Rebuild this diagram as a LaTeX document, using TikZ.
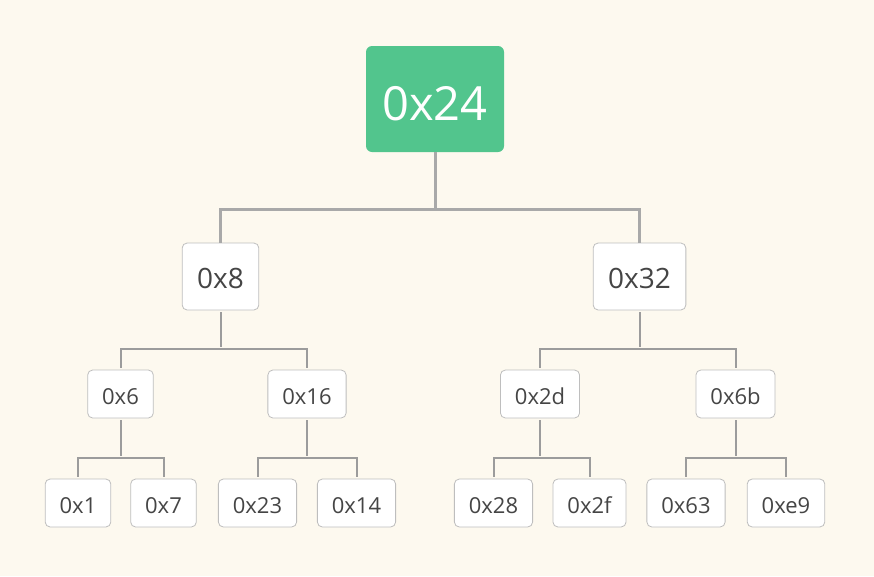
\documentclass[tikz,border=0pt]{standalone}
\usepackage{fontspec}
\setmainfont{Open Sans}
\definecolor{paper}{HTML}{FDF9EF}
\definecolor{rootgreen}{HTML}{52C58D}
\definecolor{boxline}{HTML}{BEBEBE}
\definecolor{txt}{HTML}{454545}
\definecolor{wire}{HTML}{A9A9A9}
\definecolor{wirelow}{HTML}{9C9C9C}
\tikzset{
  keybox/.style={draw=boxline, fill=white, rounded corners=5pt, text=txt, line width=0.8pt, text depth=0pt},
  rootbox/.style={fill=rootgreen, rounded corners=6pt, text=white, minimum width=138pt,
    minimum height=106pt, text height=42pt, text depth=0pt, font=\fontsize{47}{50}\selectfont},
  midbox/.style={keybox, inner xsep=15pt, minimum height=67pt, text height=24pt,
    font=\fontsize{28}{32}\selectfont},
  lowbox/.style={keybox, inner xsep=14.5pt, minimum height=48pt, text height=21.7pt,
    font=\fontsize{22}{26}\selectfont},
  trunk/.style={draw=wire, line width=3pt},
  branch/.style={draw=wirelow, line width=2pt, shorten <=2pt, shorten >=2pt},
}

\begin{document}
\begin{tikzpicture}[x=1pt,y=-1pt]
    \fill[paper] (0,0) rectangle (874,576);
    \useasboundingbox (0,0) rectangle (874,576);

    % root
    \node[rootbox] (root) at (435,99) {0x24};

    % second row
    \node[midbox] (n8)  at (220.5,276.5) {0x8};
    \node[midbox] (n32) at (639.5,276.5) {0x32};

    % third row
    \node[lowbox] (n6)  at (120.5,394) {0x6};
    \node[lowbox] (n16) at (307,394)   {0x16};
    \node[lowbox] (n2d) at (540,394)   {0x2d};
    \node[lowbox] (n6b) at (735.5,394) {0x6b};

    % leaves
    \node[lowbox] (n1)  at (78,503)    {0x1};
    \node[lowbox] (n7)  at (163.5,503) {0x7};
    \node[lowbox] (n23) at (257.5,503) {0x23};
    \node[lowbox] (n14) at (356.5,503) {0x14};
    \node[lowbox] (n28) at (493.5,503) {0x28};
    \node[lowbox] (n2f) at (589.5,503) {0x2f};
    \node[lowbox] (n63) at (686,503)   {0x63};
    \node[lowbox] (ne9) at (786,503)   {0xe9};

    % junctions
    \coordinate (j24) at (435,209);
    \coordinate (j8)  at (220.5,349);
    \coordinate (j32) at (639.5,349);
    \coordinate (j6)  at (120.5,458);
    \coordinate (j16) at (307,458);
    \coordinate (j2d) at (540,458);
    \coordinate (j6b) at (735.5,458);

    \draw[trunk] (root) -- (j24);
    \draw[trunk] (n8) |- (j24) -| (n32);

    \draw[branch] (n8) -- (j8);
    \draw[branch] (n6) |- (j8) -| (n16);
    \draw[branch] (n32) -- (j32);
    \draw[branch] (n2d) |- (j32) -| (n6b);

    \draw[branch] (n6) -- (j6);
    \draw[branch] (n1) |- (j6) -| (n7);
    \draw[branch] (n16) -- (j16);
    \draw[branch] (n23) |- (j16) -| (n14);
    \draw[branch] (n2d) -- (j2d);
    \draw[branch] (n28) |- (j2d) -| (n2f);
    \draw[branch] (n6b) -- (j6b);
    \draw[branch] (n63) |- (j6b) -| (ne9);
\end{tikzpicture}
\end{document}
